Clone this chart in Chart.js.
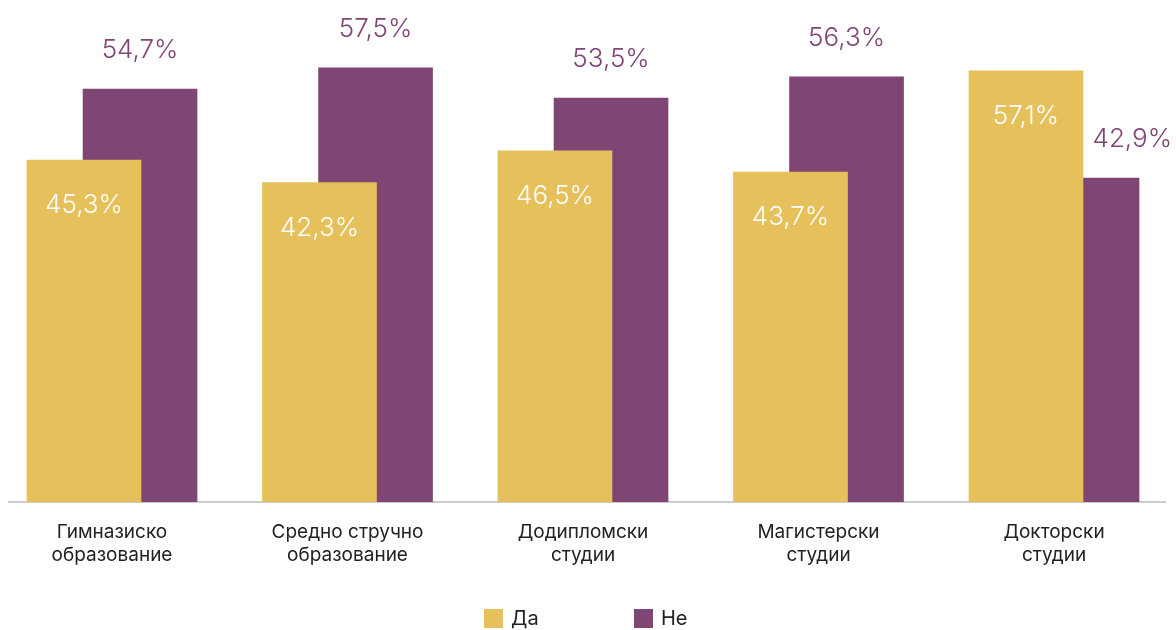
<!DOCTYPE html>
<html>
<head>
<meta charset="utf-8">
<script src="https://cdn.jsdelivr.net/npm/chart.js@4"></script>
<style>
  html, body { margin: 0; padding: 0; background: #fff; }
  #wrap { position: relative; width: 1176px; height: 630px; }
  .legend { position: absolute; top: 606px; left: 0; width: 1176px; font-family: Inter, sans-serif; font-size: 20px; color: #222; }
  .legend .item { position: absolute; top: 0; display: flex; align-items: center; }
  .legend .box { width: 19px; height: 19px; margin-right: 8px; }
</style>
</head>
<body>
<div id="wrap">
  <canvas id="chart" width="1176" height="630"></canvas>
  <div class="legend" id="legend"></div>
</div>
<script>
// data
const categories = [
  ["Гимназиско", "образование"],
  ["Средно стручно", "образование"],
  ["Додипломски", "студии"],
  ["Магистерски", "студии"],
  ["Докторски", "студии"],
];
const yesValues = [45.3, 42.3, 46.5, 43.7, 57.1];
const noValues = [54.7, 57.5, 53.5, 56.3, 42.9];
const seriesNames = ["Да", "Не"];
const colors = ["#E6C05A", "#7E4575"];

// bars overlap, so put them on a linear x axis with a small shift
const shift = 0.119;
const toPoints = (vals, off) => vals.map((v, i) => ({ x: i + off, y: v }));

const fmt = (v) => v.toFixed(1).replace(".", ",") + "%";

// value labels: yellow inside the bar, purple above it
const valueLabels = {
  id: "valueLabels",
  afterDatasetsDraw(chart) {
    const ctx = chart.ctx;
    ctx.save();
    ctx.font = "300 26px Inter";
    ctx.textAlign = "center";
    ctx.textBaseline = "alphabetic";
    chart.data.datasets.forEach((ds, di) => {
      const meta = chart.getDatasetMeta(di);
      meta.data.forEach((bar, i) => {
        const v = ds.data[i].y;
        let x = bar.x;
        if (di === 0) {
          ctx.fillStyle = "#ffffff";
          ctx.fillText(fmt(v), x, bar.y + 53);
        } else {
          ctx.fillStyle = colors[1];
          const w = ctx.measureText(fmt(v)).width;
          // last label sits against the right edge
          if (x + w / 2 > chart.width - 60) x = chart.width - 4 - w / 2;
          ctx.fillText(fmt(v), x, bar.y - 31);
        }
      });
    });
    ctx.restore();
  },
};

const config = {
  type: "bar",
  data: {
    datasets: [
      {
        label: seriesNames[0],
        data: toPoints(yesValues, -shift),
        backgroundColor: colors[0],
        order: 0,
      },
      {
        label: seriesNames[1],
        data: toPoints(noValues, shift),
        backgroundColor: colors[1],
        order: 1,
      },
    ],
  },
  options: {
    responsive: false,
    animation: false,
    layout: {
      padding: { left: 9, right: 11, top: 49, bottom: 48 },
    },
    datasets: {
      bar: { grouped: false, barThickness: 114 },
    },
    scales: {
      x: {
        type: "linear",
        offset: false,
        min: -0.4374,
        max: 4.4713,
        grid: { display: false, drawTicks: false },
        border: { display: true, color: "#cccccc", width: 2 },
        afterBuildTicks: (scale) => {
          scale.ticks = categories.map((_, i) => ({ value: i }));
        },
        afterFit: (scale) => { scale.height = 80; },
        ticks: {
          autoSkip: false,
          maxRotation: 0,
          padding: 19,
          color: "#222222",
          font: { family: "Inter", size: 19, lineHeight: 1.21 },
          callback: (val) => categories[val] || "",
        },
      },
      y: {
        display: false,
        min: 0,
        max: 60,
      },
    },
    plugins: {
      legend: { display: false },
      tooltip: { enabled: false },
    },
  },
  plugins: [valueLabels],
};

new Chart(document.getElementById("chart"), config);

// legend
const legend = document.getElementById("legend");
const legendLeft = [484, 634];
seriesNames.forEach((name, i) => {
  const item = document.createElement("div");
  item.className = "item";
  item.style.left = legendLeft[i] + "px";
  item.innerHTML = '<span class="box" style="background:' + colors[i] + '"></span><span>' + name + "</span>";
  legend.appendChild(item);
});
</script>
</body>
</html>
